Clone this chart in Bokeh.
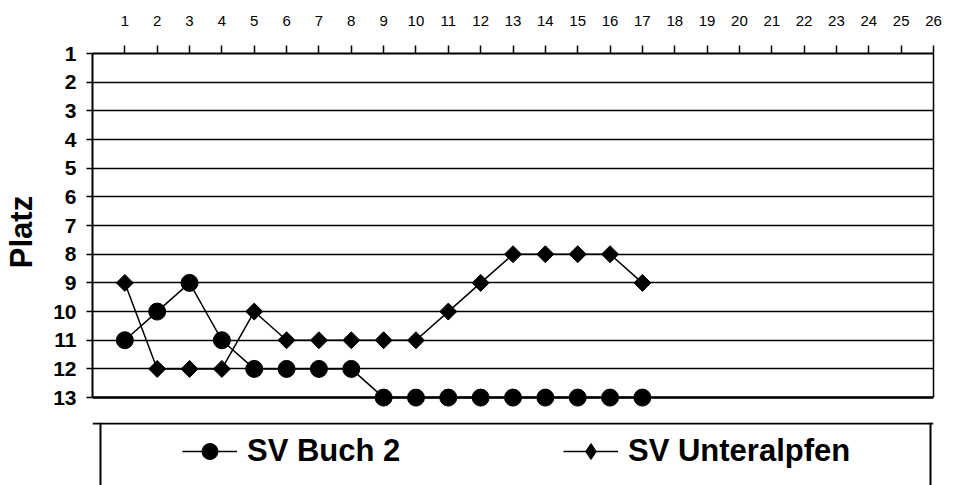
from bokeh.plotting import figure
from bokeh.layouts import column
from bokeh.models import Range1d, FixedTicker, Legend, LegendItem, LinearAxis, Span
from bokeh.embed import file_html
from bokeh.resources import INLINE

# ---- data ----
rounds = list(range(1, 18))
buch2 = [11, 10, 9, 11, 12, 12, 12, 12, 13, 13, 13, 13, 13, 13, 13, 13, 13]
unteralpfen = [9, 12, 12, 12, 10, 11, 11, 11, 11, 11, 10, 9, 8, 8, 8, 8, 9]
x_ticks = list(range(1, 27))
y_ticks = list(range(1, 14))
series_names = ["SV Buch 2", "SV Unteralpfen"]
y_title = "Platz"

FONT = "Liberation Sans"


def bare_axis(ax):
    ax.ticker = FixedTicker(ticks=[])
    ax.axis_line_color = "black"
    ax.axis_line_width = 2
    ax.major_tick_line_color = None
    ax.minor_tick_line_color = None
    ax.major_tick_out = 0
    ax.major_tick_in = 0
    ax.minor_tick_out = 0
    ax.major_label_standoff = 0
    ax.axis_label_standoff = 0
    ax.major_label_text_font_size = "0px"
    return ax


# ---------------- chart ----------------
p = figure(width=952, height=410,
           x_range=Range1d(0, 26), y_range=Range1d(13.45, 1),
           x_axis_location="above",
           output_backend="svg", toolbar_location=None,
           min_border_left=92, min_border_right=19,
           min_border_top=53, min_border_bottom=0)

p.background_fill_color = "white"
p.border_fill_color = "white"
p.outline_line_color = None

p.xgrid.grid_line_color = None
p.ygrid.ticker = FixedTicker(ticks=y_ticks)
p.ygrid.grid_line_color = "black"
p.ygrid.grid_line_width = 1.5

# top axis
xa = p.xaxis[0]
xa.ticker = FixedTicker(ticks=x_ticks)
xa.axis_line_color = "black"
xa.axis_line_width = 2
xa.major_tick_line_color = "black"
xa.major_tick_line_width = 1.5
xa.major_tick_out = 8
xa.major_tick_in = 0
xa.minor_tick_line_color = None
xa.major_label_text_font = FONT
xa.major_label_text_font_size = "15px"
xa.major_label_text_color = "black"
xa.major_label_standoff = 20

# left axis
ya = p.yaxis[0]
ya.ticker = FixedTicker(ticks=y_ticks)
ya.bounds = (y_ticks[0], y_ticks[-1])
ya.axis_line_color = "black"
ya.axis_line_width = 2
ya.major_tick_line_color = "black"
ya.major_tick_line_width = 1.5
ya.major_tick_out = 6
ya.major_tick_in = 0
ya.minor_tick_line_color = None
ya.major_label_text_font = FONT
ya.major_label_text_font_style = "bold"
ya.major_label_text_font_size = "21px"
ya.major_label_text_color = "black"
ya.major_label_standoff = 10
ya.axis_label = y_title
ya.axis_label_text_font = FONT
ya.axis_label_text_font_style = "bold"
ya.axis_label_text_font_size = "31px"
ya.axis_label_text_color = "black"
ya.axis_label_standoff = 11

# right edge of plot area
ra = bare_axis(LinearAxis())
ra.bounds = (y_ticks[0], y_ticks[-1])
ra.axis_line_width = 1.5
p.add_layout(ra, "right")

# bottom (category axis) line at the last place
p.add_layout(Span(location=y_ticks[-1], dimension="width",
                  line_color="black", line_width=2.5))

# series
l1 = p.line(rounds, buch2, line_color="black", line_width=1.5)
m1 = p.scatter(rounds, buch2, marker="circle", size=17,
               fill_color="black", line_color="black")
l2 = p.line(rounds, unteralpfen, line_color="black", line_width=1.5)
m2 = p.scatter(rounds, unteralpfen, marker="square", angle=0.785398, size=12,
               fill_color="black", line_color="black")

# ---------------- legend area ----------------
q = figure(width=952, height=75,
           x_range=Range1d(0, 26), y_range=Range1d(100, 101),
           x_axis_location=None, y_axis_location=None,
           output_backend="svg", toolbar_location=None,
           min_border_left=92, min_border_right=19,
           min_border_top=12, min_border_bottom=0)
q.grid.grid_line_color = None
q.outline_line_color = None
q.background_fill_color = "white"
q.border_fill_color = "white"
# legend box edges (top, left, right)
q.add_layout(Span(location=62, location_units="screen", dimension="width",
                  line_color="black", line_width=2))
q.add_layout(Span(location=8, location_units="screen", dimension="height",
                  line_color="black", line_width=2))
q.add_layout(Span(location=838, location_units="screen", dimension="height",
                  line_color="black", line_width=2))

# same series (out of view here) - only supply the legend glyphs
ql1 = q.line(rounds, buch2, line_color="black", line_width=1.5)
qm1 = q.scatter(rounds, buch2, marker="circle", size=11,
                fill_color="black", line_color="black")
ql2 = q.line(rounds, unteralpfen, line_color="black", line_width=1.5)
qm2 = q.scatter(rounds, unteralpfen, marker="diamond", size=11,
                fill_color="black", line_color="black")

legend = Legend(items=[LegendItem(label=series_names[0], renderers=[ql1, qm1]),
                       LegendItem(label=series_names[1], renderers=[ql2, qm2])],
                orientation="horizontal", location=(90, 14),
                padding=0, spacing=91, margin=0,
                glyph_width=55, glyph_height=40, label_height=36,
                label_width=225, label_standoff=10,
                label_text_font=FONT, label_text_font_style="bold",
                label_text_font_size="31px", label_text_color="black",
                border_line_color=None, background_fill_alpha=0)
q.add_layout(legend, "center")

layout = column(p, q, spacing=0)
open("out.html", "w").write(file_html(layout, INLINE))
